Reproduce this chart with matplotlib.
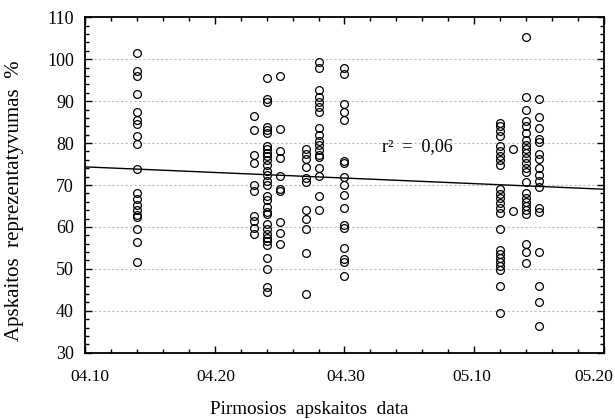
import numpy as np
import matplotlib
matplotlib.use("Agg")
import matplotlib.pyplot as plt
from matplotlib.ticker import MultipleLocator
from matplotlib.transforms import ScaledTranslation
from datetime import date

# first record dates (month.day) and the representativeness values read per date
col_dates = ["04.14", "04.23", "04.24", "04.25", "04.27", "04.28", "04.30",
             "05.12", "05.13", "05.14", "05.15"]

col_04_14 = [101.5, 97.2, 95.9, 91.7, 87.5, 85.6, 84.6, 81.6, 79.8, 73.8,
             68.1, 66.7, 65.2, 64.0, 62.9, 62.4, 59.4, 56.4, 51.7]
col_04_23 = [86.4, 83.2, 77.1, 75.2, 69.9, 68.5, 62.6, 61.3, 59.8, 58.4]
col_04_24 = [95.5, 90.6, 89.9, 83.9, 83.2, 82.4, 79.4, 78.6, 77.6, 76.8,
             76.0, 74.8, 73.3, 72.5, 70.9, 69.9, 67.3, 66.5, 64.8, 63.6,
             63.0, 60.6, 59.4, 58.4, 57.4, 56.7, 55.6, 52.5, 49.9, 45.6, 44.5]
col_04_25 = [96.1, 83.4, 78.2, 76.4, 72.1, 69.1, 68.6, 61.2, 58.6, 56.0]
col_04_27 = [78.6, 77.5, 76.3, 74.4, 71.7, 70.6, 64.0, 61.8, 59.6, 53.9, 43.9]
col_04_28 = [99.4, 98.0, 92.7, 91.0, 89.8, 88.5, 87.5, 83.5, 82.0, 80.5,
             79.6, 78.3, 77.2, 76.6, 74.0, 72.1, 67.3, 64.1]
col_04_30 = [97.9, 96.4, 89.4, 87.5, 85.5, 75.8, 75.2, 72.0, 70.1, 67.6,
             64.5, 60.5, 59.8, 55.0, 52.3, 51.6, 48.2]
col_05_12 = [84.9, 84.0, 82.8, 81.6, 79.2, 78.2, 77.0, 75.9, 74.7, 69.0,
             67.9, 66.8, 65.7, 64.5, 63.3, 59.4, 54.6, 53.6, 52.6, 51.6,
             50.6, 49.8, 46.0, 39.4]
col_05_13 = [78.6, 63.7]
col_05_14 = [105.2, 91.0, 87.9, 85.2, 84.0, 82.3, 80.8, 79.6, 78.6, 77.6,
             76.4, 75.2, 74.0, 73.0, 70.8, 68.2, 67.0, 66.0, 65.0, 64.0,
             63.2, 55.9, 54.1, 51.5]
col_05_15 = [90.4, 86.2, 83.6, 81.0, 80.3, 77.5, 76.2, 74.0, 72.5, 71.0,
             69.5, 64.5, 63.6, 54.1, 46.0, 42.2, 36.4]

columns = [col_04_14, col_04_23, col_04_24, col_04_25, col_04_27, col_04_28,
           col_04_30, col_05_12, col_05_13, col_05_14, col_05_15]

xtick_labels = ["04.10", "04.20", "04.30", "05.10", "05.20"]
r2_text = "r\u00b2  =  0,06"


def day_of(label):
    m, d = label.split(".")
    return (date(2000, int(m), int(d)) - date(2000, 4, 10)).days


plt.rcParams['font.family'] = ['Liberation Serif', 'DejaVu Serif']

xs = []
ys = []
for lab, vals in zip(col_dates, columns):
    xs += [day_of(lab)] * len(vals)
    ys += vals
xs = np.array(xs, dtype=float)
ys = np.array(ys)

fig = plt.figure(figsize=(6.15, 4.19), dpi=100)
ax = fig.add_axes([0.1382, 0.1582, 0.8439, 0.8005])

ax.plot(xs, ys, linestyle="none", marker="o", markersize=5.6,
        markerfacecolor="none", markeredgecolor="black", markeredgewidth=0.9,
        zorder=3)

k, b = np.polyfit(xs, ys, 1)
xl = np.array([0, 40])
ax.plot(xl, k * xl + b, color="black", linewidth=1.0, zorder=4)

ax.text(22.9, 79.2, r2_text, fontsize=13, ha="left", va="center")

ax.set_xlim(0, 40)
ax.set_ylim(30, 110)
ax.set_xticks([day_of(t) for t in xtick_labels])
ax.set_xticklabels(xtick_labels)
ax.xaxis.set_minor_locator(MultipleLocator(2))
ax.yaxis.set_major_locator(MultipleLocator(10))
ax.yaxis.set_minor_locator(MultipleLocator(2))

ax.tick_params(which="both", direction="in", top=True, right=True,
               width=1.0, colors="black")
ax.tick_params(which="major", length=5)
ax.tick_params(axis="x", which="major", pad=12, labelsize=12.5)
ax.tick_params(axis="y", which="major", pad=8, labelsize=13)
ax.tick_params(which="minor", length=3)

# edge labels sit a little inside the frame in the original
shifts = [5, 1, 1, -2, -10]
for lbl, dx in zip(ax.get_xticklabels(), shifts):
    lbl.set_transform(lbl.get_transform() + ScaledTranslation(dx / 100, 0, fig.dpi_scale_trans))

for sp in ax.spines.values():
    sp.set_linewidth(1.3)

ax.yaxis.grid(True, which="major", linestyle=(0, (2, 2)), color="#bdbdbd",
              linewidth=0.8)
ax.set_axisbelow(True)

fig.text(309 / 615, 1 - 409 / 419, "Pirmosios  apskaitos  data",
         fontsize=13.8, ha="center", va="center")
fig.text(15 / 615, 1 - 201 / 419, "Apskaitos  reprezentatyvumas  %",
         fontsize=15, ha="center", va="center", rotation=90)

fig.savefig("out.png", dpi=100)
